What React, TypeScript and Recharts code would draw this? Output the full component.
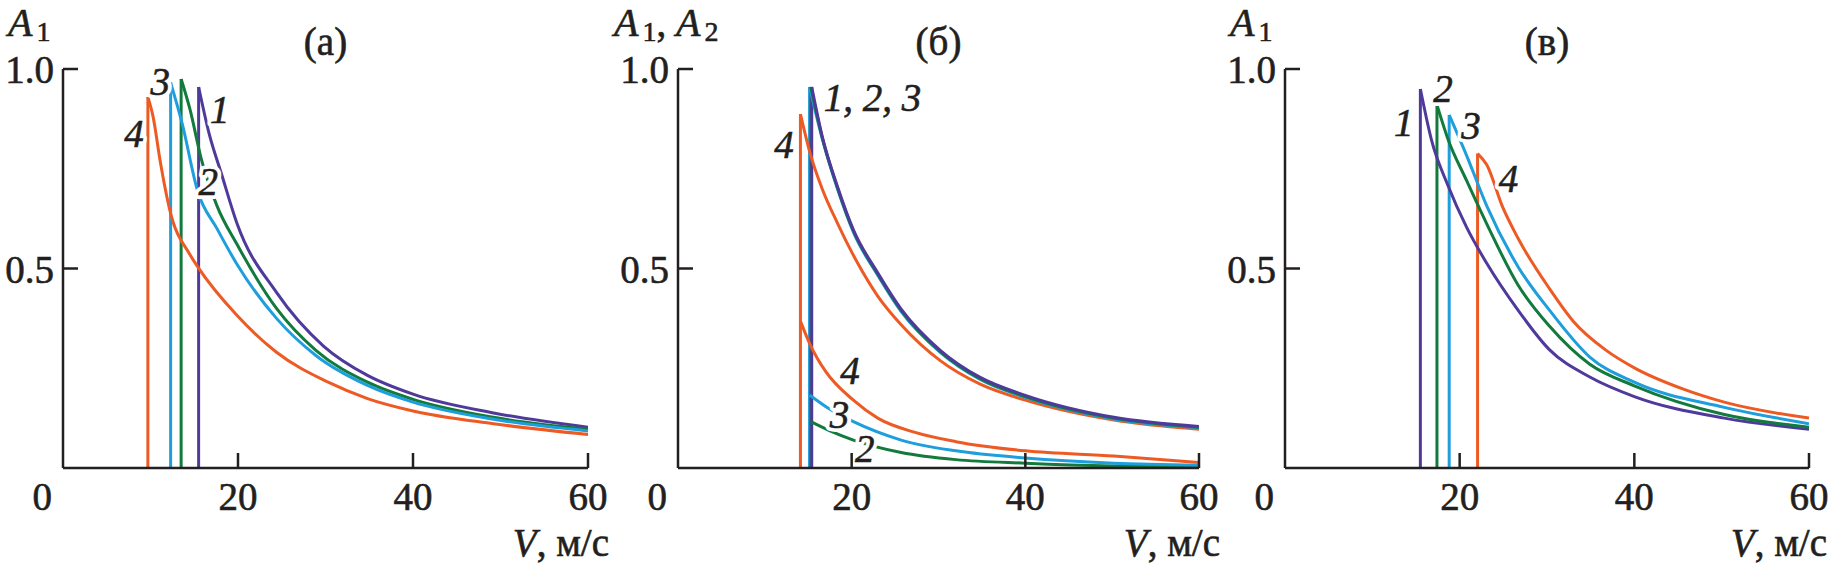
import React from 'react';
import { LineChart, Line, XAxis, YAxis, ReferenceDot } from 'recharts';

// ---------- data ----------
const xTicks = [0, 20, 40, 60];
const yTicks = [0.5, 1.0];
const panelTitles = ['(а)', '(б)', '(в)'];

const COLORS = { c1: '#4f3a9b', c2: '#127a3d', c3: '#1e9edc', c4: '#ee5a23' };

// Panel (а): A1(V)
const a1V = [15.5, 16.7, 18.1, 19.9, 24.4, 29.8, 34.8, 40, 49.2, 60];
const a1A = [0.955, 0.838, 0.738, 0.612, 0.44, 0.305, 0.232, 0.185, 0.138, 0.102];
const a2V = [13.5, 14.5, 15.8, 17.6, 19.9, 24.4, 28.9, 34.8, 40, 49.2, 60];
const a2A = [0.975, 0.9, 0.775, 0.657, 0.56, 0.4, 0.295, 0.215, 0.172, 0.127, 0.097];
const a3V = [12.3, 13.6, 15.4, 17.6, 19.9, 24.4, 28.9, 34.8, 40, 49.2, 60];
const a3A = [0.966, 0.865, 0.693, 0.6, 0.51, 0.375, 0.282, 0.207, 0.165, 0.122, 0.093];
const a4V = [9.7, 10.3, 11.1, 12.2, 14.5, 15.4, 19.9, 24.4, 30.3, 34.8, 40, 49.2, 60];
const a4A = [0.93, 0.88, 0.77, 0.647, 0.535, 0.504, 0.382, 0.29, 0.215, 0.174, 0.143, 0.111, 0.084];

// Panel (б): A1 (upper) and A2 (lower)
const b1V = [15.4, 16.6, 18.4, 20.2, 23, 25.7, 30.2, 34.8, 40, 50.2, 60];
const b1A = [0.955, 0.832, 0.703, 0.597, 0.489, 0.398, 0.295, 0.227, 0.182, 0.127, 0.104];
const b2V = [15.3, 16.6, 18.4, 20.2, 23, 25.7, 30.2, 34.8, 40, 50.2, 60];
const b2A = [0.955, 0.829, 0.7, 0.594, 0.486, 0.395, 0.292, 0.224, 0.179, 0.125, 0.102];
const b3V = [15.15, 16.6, 18.4, 20.2, 23, 25.7, 30.2, 34.8, 40, 50.2, 60];
const b3A = [0.955, 0.826, 0.697, 0.591, 0.483, 0.392, 0.29, 0.222, 0.177, 0.123, 0.101];
const b4V = [14.1, 15.2, 16.6, 18.4, 20.7, 23, 25.7, 30.2, 34.8, 40, 50.2, 60];
const b4A = [0.887, 0.79, 0.7, 0.612, 0.513, 0.431, 0.359, 0.269, 0.21, 0.17, 0.12, 0.097];
const b2lowV = [15.3, 17.5, 20.2, 25.7, 32, 40, 50.2, 60];
const b2lowA = [0.116, 0.093, 0.07, 0.039, 0.021, 0.012, 0.005, 0.003];
const b3lowV = [15.15, 17.5, 20.2, 25.7, 32, 40, 50.2, 60];
const b3lowA = [0.183, 0.147, 0.116, 0.07, 0.043, 0.025, 0.012, 0.007];
const b4lowV = [14.1, 15.2, 17, 20.2, 23, 27.5, 32, 40, 50.2, 60];
const b4lowA = [0.368, 0.31, 0.242, 0.17, 0.125, 0.088, 0.066, 0.043, 0.03, 0.014];

// Panel (в): A1(V)
const c1V = [15.5, 16.8, 18.6, 20.8, 23.1, 26.7, 30.3, 34.9, 40, 50.3, 60];
const c1A = [0.95, 0.82, 0.711, 0.603, 0.513, 0.395, 0.296, 0.228, 0.179, 0.125, 0.097];
const c2V = [17.4, 18.6, 20.8, 23.1, 26.7, 30.3, 34.9, 40, 50.3, 60];
const c2A = [0.91, 0.828, 0.72, 0.612, 0.458, 0.355, 0.26, 0.206, 0.134, 0.102];
const c3V = [18.8, 20.8, 23.1, 26.7, 30.3, 34.9, 40, 50.3, 60];
const c3A = [0.885, 0.783, 0.657, 0.504, 0.395, 0.278, 0.215, 0.152, 0.111];
const c4V = [22.05, 23.1, 24.9, 26.7, 30.3, 33, 36.7, 40, 45.7, 50.3, 60];
const c4A = [0.788, 0.76, 0.655, 0.575, 0.449, 0.368, 0.296, 0.251, 0.197, 0.165, 0.125];

// curve labels: [text, V, A]
const aLabels: [string, number, number][] = [['4', 8.1, 0.838], ['3', 11.1, 0.968], ['1', 17.9, 0.896], ['2', 16.6, 0.716]];
const bLabels: [string, number, number][] = [['1, 2, 3', 22.4, 0.928], ['4', 12.2, 0.81], ['4', 19.8, 0.242], ['3', 18.6, 0.134], ['2', 21.5, 0.048]];
const cLabels: [string, number, number][] = [['1', 13.6, 0.865], ['2', 18.1, 0.95], ['3', 21.3, 0.856], ['4', 25.6, 0.725]];

// ---------- helpers ----------
type Pt = { v: number; a: number };
const zip = (vs: number[], as: number[]): Pt[] => vs.map((v, i) => ({ v, a: as[i] }));
const rise = (vs: number[], as: number[]): Pt[] => [{ v: vs[0], a: 0 }, { v: vs[0], a: as[0] }];

const FONT = '"Liberation Serif", "Times New Roman", serif';
const INK = '#231f20';
const FS = 39;
const PLOT_TOP = 69;
const PLOT_BOTTOM = 468;
const H = 566;
const XAXIS_H = 30;
const YAXIS_W = 10;
const TS: React.CSSProperties = { fontFamily: FONT, fontSize: FS };
const TSI: React.CSSProperties = { fontFamily: FONT, fontSize: FS, fontStyle: 'italic' };
const HEAVY = { stroke: INK, strokeWidth: 0.6 };

type Curve = { color: string; V: number[]; A: number[]; riseUp: boolean };

const XTick = (props: any) => {
  const { x, y, payload } = props;
  if (payload.value === 0) {
    return (
      <text x={x - 11} y={y + 42} textAnchor="end" style={TS} fill={INK} {...HEAVY}>0</text>
    );
  }
  return (
    <g>
      <line x1={x} y1={y} x2={x} y2={y - 15} stroke={INK} strokeWidth={2.5} />
      <text x={x} y={y + 42} textAnchor="middle" style={TS} fill={INK} {...HEAVY}>{payload.value}</text>
    </g>
  );
};

const YTick = (props: any) => {
  const { x, y, payload } = props;
  return (
    <g>
      <line x1={x} y1={y} x2={x + 15} y2={y} stroke={INK} strokeWidth={2.5} />
      <text x={x - 9} y={y + 14} textAnchor="end" style={TS} fill={INK} {...HEAVY}>{Number(payload.value).toFixed(1)}</text>
    </g>
  );
};

const labelShape = (txt: string) => (p: any) => (
  <g>
    <text x={p.cx} y={p.cy + 13} textAnchor="middle" style={TSI}
      fill="#fff" stroke="#fff" strokeWidth={8} strokeLinejoin="round">{txt}</text>
    <text x={p.cx} y={p.cy + 13} textAnchor="middle" style={TSI} fill={INK} {...HEAVY}>{txt}</text>
  </g>
);

function Panel({ chartLeft, chartWidth, plotLeft, plotRight, curves, labels }: {
  chartLeft: number; chartWidth: number; plotLeft: number; plotRight: number; curves: Curve[]; labels: [string, number, number][];
}) {
  return (
    <div style={{ position: 'absolute', left: chartLeft, top: 0, width: chartWidth, height: H }}>
      <LineChart width={chartWidth} height={H}
        margin={{ top: PLOT_TOP, bottom: H - PLOT_BOTTOM - XAXIS_H, left: plotLeft - chartLeft - YAXIS_W, right: chartLeft + chartWidth - plotRight }}>
        <XAxis dataKey="v" type="number" domain={[0, 60]} ticks={xTicks} interval={0} allowDataOverflow
          height={XAXIS_H} tickSize={0} tickMargin={0} tick={<XTick />} axisLine={{ stroke: INK, strokeWidth: 2.5 }} tickLine={false} />
        <YAxis dataKey="a" type="number" domain={[0, 1]} ticks={yTicks} interval={0} allowDataOverflow
          width={YAXIS_W} tickSize={0} tickMargin={0} tick={<YTick />} axisLine={{ stroke: INK, strokeWidth: 2.5 }} tickLine={false} />
        {curves.map((c, i) => c.riseUp ? (
          <Line key={'r' + i} data={rise(c.V, c.A)} dataKey="a" type="linear" stroke={c.color} strokeWidth={3}
            dot={false} activeDot={false} isAnimationActive={false} />
        ) : null)}
        {curves.map((c, i) => (
          <Line key={'d' + i} data={zip(c.V, c.A)} dataKey="a" type="monotone" stroke={c.color} strokeWidth={3}
            dot={false} activeDot={false} isAnimationActive={false} />
        ))}
        {labels.map(([t, v, a], i) => (
          <ReferenceDot key={'l' + i} x={v} y={a} r={0} shape={labelShape(t)} />
        ))}
      </LineChart>
    </div>
  );
}

const A = (sub: string) => (
  <>
    <tspan style={{ fontStyle: 'italic', fontSize: 40 }}>A</tspan>
    <tspan style={{ fontSize: 28 }} dx={4} dy={5}>{sub}</tspan>
  </>
);

export default function App() {
  const panels = [
    {
      chartLeft: 0, chartWidth: 615, plotLeft: 63, plotRight: 588,
      curves: [
        { color: COLORS.c1, V: a1V, A: a1A, riseUp: true },
        { color: COLORS.c2, V: a2V, A: a2A, riseUp: true },
        { color: COLORS.c3, V: a3V, A: a3A, riseUp: true },
        { color: COLORS.c4, V: a4V, A: a4A, riseUp: true },
      ], labels: aLabels,
    },
    {
      chartLeft: 615, chartWidth: 610, plotLeft: 678, plotRight: 1199,
      curves: [
        { color: COLORS.c4, V: b4V, A: b4A, riseUp: true },
        { color: COLORS.c4, V: b4lowV, A: b4lowA, riseUp: false },
        { color: COLORS.c2, V: b2lowV, A: b2lowA, riseUp: false },
        { color: COLORS.c3, V: b3lowV, A: b3lowA, riseUp: false },
        { color: COLORS.c3, V: b3V, A: b3A, riseUp: true },
        { color: COLORS.c2, V: b2V, A: b2A, riseUp: true },
        { color: COLORS.c1, V: b1V, A: b1A, riseUp: true },
      ], labels: bLabels,
    },
    {
      chartLeft: 1225, chartWidth: 603, plotLeft: 1285, plotRight: 1809,
      curves: [
        { color: COLORS.c1, V: c1V, A: c1A, riseUp: true },
        { color: COLORS.c2, V: c2V, A: c2A, riseUp: true },
        { color: COLORS.c3, V: c3V, A: c3A, riseUp: true },
        { color: COLORS.c4, V: c4V, A: c4A, riseUp: true },
      ], labels: cLabels,
    },
  ];
  const yLabelOffsets = [55, 64, 55];
  const yLabelBase = [36, 36, 36];
  return (
    <div style={{ position: 'absolute', left: 0, top: 0, width: 1828, height: H, background: '#fff', overflow: 'hidden', fontFamily: FONT }}>
      {panels.map((p, i) => (
        <Panel key={i} {...p} />
      ))}
      <svg width={1828} height={H} style={{ position: 'absolute', left: 0, top: 0, pointerEvents: 'none' }}>
        {panels.map((p, i) => (
          <g key={i} fill={INK} {...HEAVY}>
            <text x={p.plotLeft + 0.5 * (p.plotRight - p.plotLeft)} y={55} textAnchor="middle" style={TS}>{panelTitles[i]}</text>
            <text x={p.plotLeft - yLabelOffsets[i]} y={yLabelBase[i]} style={TS}>
              {i === 1 ? (<>{A('1')}<tspan dy={-5}>, </tspan>{A('2')}</>) : A('1')}
            </text>
            <text x={Math.min(p.plotRight + 21, 1827)} y={556} textAnchor="end" style={TS}>
              <tspan style={{ fontStyle: 'italic' }}>V</tspan>, м/с
            </text>
          </g>
        ))}
      </svg>
    </div>
  );
}
